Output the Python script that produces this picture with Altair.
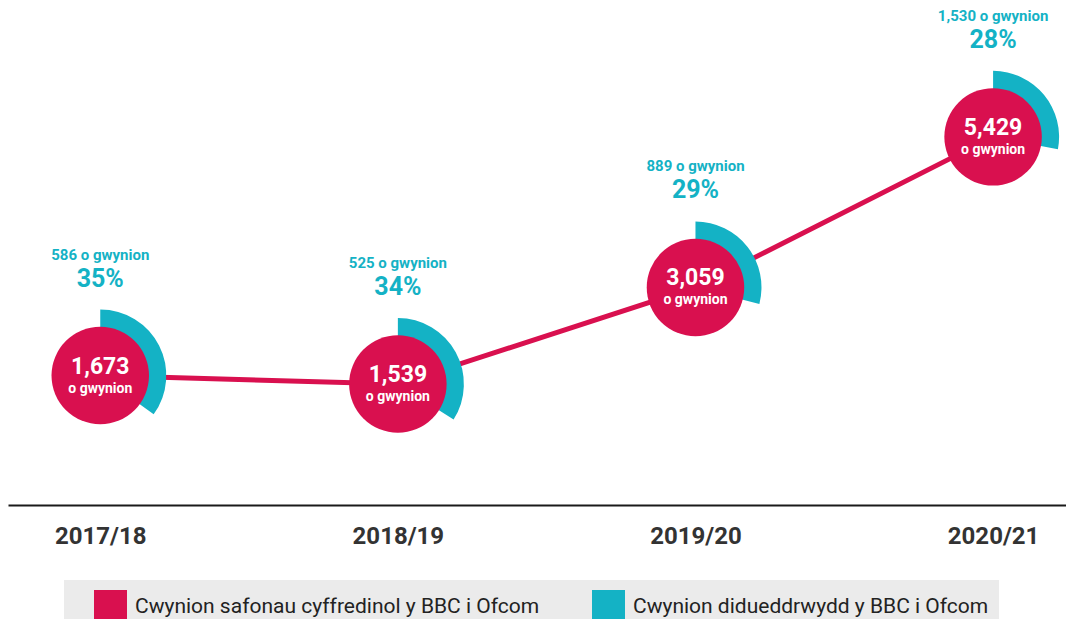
import json
import math
import altair as alt
import pandas as pd

years = ["2017/18", "2018/19", "2019/20", "2020/21"]
general = [1673, 1539, 3059, 5429]
impartial = [586, 525, 889, 1530]
impartial_pct = [35, 34, 29, 28]
series = ["Cwynion safonau cyffredinol y BBC i Ofcom", "Cwynion didueddrwydd y BBC i Ofcom"]
colors = ["#D9104F", "#14B2C5"]

FONT = "Roboto"

df = pd.DataFrame({
    "idx": list(range(len(years))),
    "year": years,
    "general": general,
    "imp": impartial,
    "pct": impartial_pct,
})
df["series_g"] = series[0]
df["series_i"] = series[1]

base = alt.Chart(df)

x = alt.X(
    "idx:Q",
    scale=alt.Scale(domain=[-0.31, 3.245], nice=False, zero=False),
    axis=alt.Axis(
        values=list(range(len(years))),
        labelExpr=json.dumps(years) + "[datum.value]",
        title=None, grid=False, ticks=False,
        domainColor="#1a1a1a", domainWidth=2,
        labelFont=FONT, labelFontWeight="bold", labelFontSize=24,
        labelColor="#333333", labelPadding=19,
    ),
)
y = alt.Y("general:Q", scale=alt.Scale(domain=[-364, 7457], nice=False, zero=False), axis=None)

color_scale = alt.Scale(domain=series, range=colors)
legend = alt.Legend(
    orient="none", legendX=56, legendY=572, direction="horizontal", title=None,
    symbolType="square", symbolSize=1089, symbolStrokeWidth=0, symbolOpacity=1,
    labelFont=FONT, labelFontSize=21, labelColor="#222222",
    labelOffset=8, symbolOffset=20, columnPadding=32, padding=10,
    fillColor="#EBEBEB", labelLimit=700,
)

line = base.mark_line(color=colors[0], strokeWidth=5).encode(x=x, y=y)

arc = base.transform_calculate(
    t0="0", t1="datum.pct / 100 * 2 * PI"
).mark_arc(radius=66, radius2=30, opacity=1).encode(
    x=x, y=y,
    theta=alt.Theta("t0:Q", scale=None),
    theta2="t1:Q",
    color=alt.Color("series_i:N", scale=color_scale, legend=legend),
)

circle = base.mark_circle(size=math.pi * 55 * 55, opacity=1).encode(
    x=x, y=y,
    color=alt.Color("series_g:N", scale=color_scale, legend=legend),
)

val = base.transform_calculate(lab="format(datum.general, ',')").mark_text(
    font=FONT, fontWeight="bold", fontSize=23, color="white", dy=-9, baseline="middle"
).encode(x=x, y=y, text="lab:N")

sub = base.mark_text(
    font=FONT, fontWeight="bold", fontSize=14, color="white", dy=13, baseline="middle", text="o gwynion"
).encode(x=x, y=y)

imp_lab = base.transform_calculate(lab="format(datum.imp, ',') + ' o gwynion'").mark_text(
    font=FONT, fontWeight="bold", fontSize=15, color=colors[1], dy=-121, baseline="middle"
).encode(x=x, y=y, text="lab:N")

pct_lab = base.transform_calculate(lab="datum.pct + '%'").mark_text(
    font=FONT, fontWeight="bold", fontSize=25, color=colors[1], dy=-97, baseline="middle"
).encode(x=x, y=y, text="lab:N")

chart = alt.layer(line, arc, circle, val, sub, imp_lab, pct_lab).properties(
    width=1058, height=497,
    autosize=alt.AutoSizeParams(type="none"),
    padding={"left": 0, "top": 0, "right": 0, "bottom": 114},
).configure_view(strokeWidth=0)

chart.save("out.html", embed_options={"renderer": "svg", "actions": False})
